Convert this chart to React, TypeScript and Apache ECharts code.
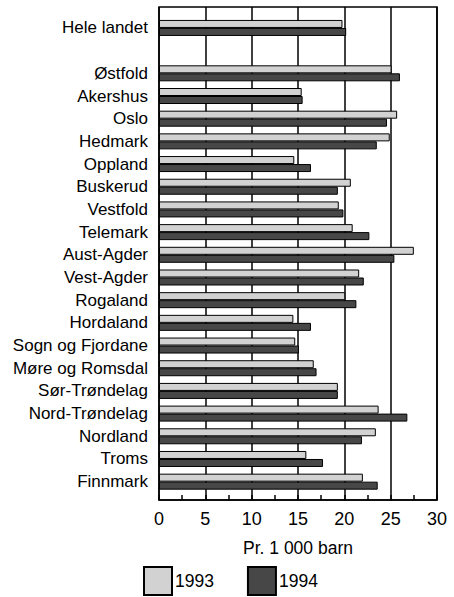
import React, { useEffect, useRef } from "react";
import * as echarts from "echarts";

const nationalLabel = "Hele landet";
const national1993 = 19.8;
const national1994 = 20.2;

const regions = [
  "Østfold", "Akershus", "Oslo", "Hedmark", "Oppland", "Buskerud", "Vestfold",
  "Telemark", "Aust-Agder", "Vest-Agder", "Rogaland", "Hordaland",
  "Sogn og Fjordane", "Møre og Romsdal", "Sør-Trøndelag", "Nord-Trøndelag",
  "Nordland", "Troms", "Finnmark",
];
const values1993 = [
  25.1, 15.4, 25.7, 24.9, 14.6, 20.7, 19.4, 20.9, 27.5, 21.6, 20.1, 14.5,
  14.7, 16.7, 19.3, 23.7, 23.4, 15.9, 22.0,
];
const values1994 = [
  26.0, 15.5, 24.6, 23.5, 16.4, 19.3, 19.9, 22.7, 25.4, 22.1, 21.3, 16.4,
  15.1, 17.0, 19.3, 26.8, 21.9, 17.7, 23.6,
];
const xTicks = { min: 0, max: 30, interval: 5 };
const seriesNames = ["1993", "1994"];
const axisTitle = "Pr. 1 000 barn";

const FONT = "'Liberation Sans', Arial, Helvetica, sans-serif";

export default function App() {
  const ref = useRef<HTMLDivElement>(null);
  useEffect(() => {
    if (!ref.current) return;
    const chart = echarts.init(ref.current, undefined, { renderer: "svg" });
    const categories = [nationalLabel, "", ...regions];
    const d1993 = [national1993, null, ...values1993];
    const d1994 = [national1994, null, ...values1994];
    chart.setOption({
      animation: false,
      backgroundColor: "#fff",
      textStyle: { fontFamily: FONT, color: "#000" },
      grid: [
        { left: 159, right: 17, top: 7, bottom: 97, show: true, borderColor: "#000", borderWidth: 1.5, backgroundColor: "transparent" },
        { left: 159, right: 17, top: 16.6, bottom: 104, show: false },
      ],
      xAxis: [
        {
          gridIndex: 0,
          type: "value",
          min: xTicks.min,
          max: xTicks.max,
          interval: xTicks.interval,
          axisLine: { show: true, lineStyle: { color: "#000", width: 1.5 } },
          axisTick: { show: true, inside: true, length: 5, lineStyle: { color: "#000", width: 1.5 } },
          minorTick: { show: true, splitNumber: 2, length: 5, lineStyle: { color: "#000", width: 1.5 } },
          splitLine: { show: true, lineStyle: { color: "#000", width: 1.5 } },
          axisLabel: { color: "#000", fontSize: 18, fontFamily: FONT, margin: 10 },
          name: axisTitle,
          nameLocation: "middle",
          nameGap: 39,
          nameTextStyle: { color: "#000", fontSize: 17.5, fontFamily: FONT },
        },
        {
          gridIndex: 1,
          type: "value",
          min: xTicks.min,
          max: xTicks.max,
          show: false,
        },
      ],
      yAxis: [
        { gridIndex: 0, type: "value", show: false, min: 0, max: 1 },
        {
          gridIndex: 1,
          type: "category",
          inverse: true,
          data: categories,
          axisLine: { show: false },
          axisTick: { show: false },
          splitLine: { show: false },
          axisLabel: { color: "#000", fontSize: 17, fontFamily: FONT, margin: 11, interval: 0 },
        },
      ],
      legend: {
        bottom: 1,
        left: 143,
        padding: 0,
        itemWidth: 28,
        itemHeight: 28,
        itemGap: 33,
        icon: "rect",
        textStyle: { color: "#000", fontSize: 17.5, fontFamily: FONT, padding: [0, 0, 0, -2] },
        data: seriesNames,
      },
      series: [
        {
          name: seriesNames[0],
          type: "bar",
          xAxisIndex: 1,
          yAxisIndex: 1,
          data: d1993,
          barWidth: 8,
          barGap: "0%",
          itemStyle: { color: "#d2d2d2", borderColor: "#000", borderWidth: 1 },
        },
        {
          name: seriesNames[1],
          type: "bar",
          xAxisIndex: 1,
          yAxisIndex: 1,
          data: d1994,
          barWidth: 8,
          barGap: "0%",
          itemStyle: { color: "#474747", borderColor: "#000", borderWidth: 1 },
        },
      ],
    });
    return () => chart.dispose();
  }, []);
  return <div ref={ref} style={{ width: 454, height: 597, position: "absolute", left: 0, top: 0 }} />;
}
